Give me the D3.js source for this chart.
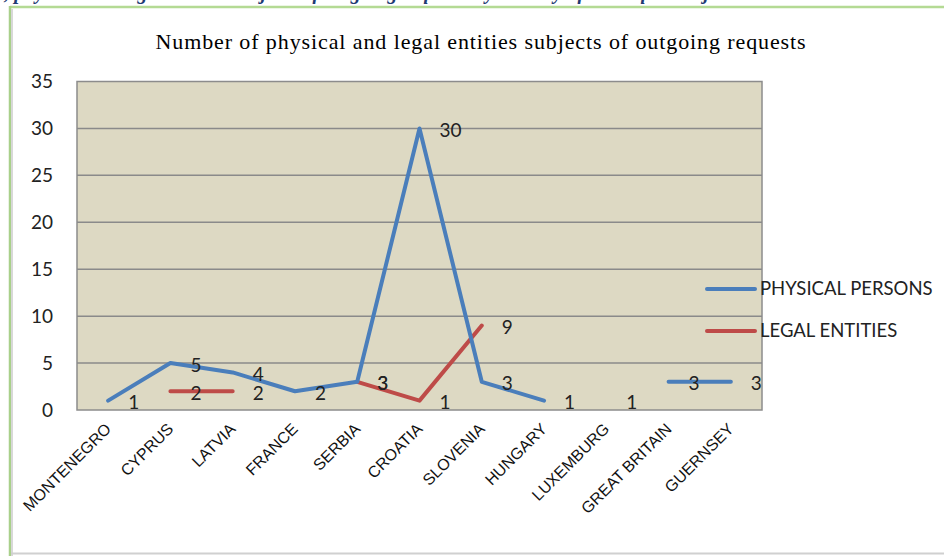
<!DOCTYPE html>
<html>
<head>
<meta charset="utf-8">
<style>
  body { margin: 0; background: #fff; }
  svg { display: block; }
</style>
</head>
<body>
<div id="lineChart"></div>

<script src="https://d3js.org/d3.v7.min.js"></script>
<script>
// chart data
var countries = ["MONTENEGRO", "CYPRUS", "LATVIA", "FRANCE", "SERBIA", "CROATIA",
                 "SLOVENIA", "HUNGARY", "LUXEMBURG", "GREAT BRITAIN", "GUERNSEY"];
var physicalPersons = [1, 5, 4, 2, 3, 30, 3, 1, null, 3, 3];
var legalEntities   = [null, 2, 2, null, 3, 1, 9, null, 1, null, null];
var seriesNames = ["PHYSICAL PERSONS", "LEGAL ENTITIES"];
var seriesColors = ["#4a7ebb", "#be4b48"];
var yTicks = [0, 5, 10, 15, 20, 25, 30, 35];

var width = 944, height = 556;
var plot = {left: 77, right: 762, top: 81.5, bottom: 410};

var svg = d3.select("#lineChart")
  .append("svg")
    .attr("width", width)
    .attr("height", height);

// cut off heading of the page above the chart
svg.append("text")
  .attr("x", -4)
  .attr("y", -1)
  .attr("font-family", "'Liberation Serif', 'DejaVu Serif', serif")
  .attr("font-size", 20)
  .attr("font-weight", "bold")
  .attr("font-style", "italic")
  .attr("fill", "#1f3b73")
  .text("y, physical and legal entities subjects of outgoing requests by country of the requested jurisdiction");

// frame around the chart
svg.append("line")
  .attr("x1", 10).attr("x2", width).attr("y1", 7).attr("y2", 7)
  .attr("stroke", "#b4da94").attr("stroke-width", 2.5);
svg.append("line")
  .attr("x1", 10).attr("x2", 10).attr("y1", 6).attr("y2", height)
  .attr("stroke", "#a9d08a").attr("stroke-width", 2.5);
svg.append("line")
  .attr("x1", 12).attr("x2", 12).attr("y1", 9).attr("y2", height)
  .attr("stroke", "#d8d8d8").attr("stroke-width", 2);
svg.append("line")
  .attr("x1", 11).attr("x2", width).attr("y1", 553.5).attr("y2", 553.5)
  .attr("stroke", "#d0d0d0").attr("stroke-width", 2);

// title
svg.append("text")
  .attr("x", 481)
  .attr("y", 49)
  .attr("text-anchor", "middle")
  .attr("font-family", "'Liberation Serif', 'DejaVu Serif', serif")
  .attr("font-size", 22)
  .attr("letter-spacing", 0.9)
  .attr("fill", "#000")
  .text("Number of physical and legal entities subjects of outgoing requests");

// scales
var x = d3.scaleBand()
  .domain(countries)
  .range([plot.left, plot.right]);

var y = d3.scaleLinear()
  .domain([0, 35])
  .range([plot.bottom, plot.top]);

// plot background
svg.append("rect")
  .attr("x", plot.left)
  .attr("y", plot.top)
  .attr("width", plot.right - plot.left)
  .attr("height", plot.bottom - plot.top)
  .attr("fill", "#ddd9c3")
  .attr("stroke", "#8c8c8c")
  .attr("stroke-width", 1.5);

// gridlines
svg.append("g")
  .selectAll("line")
  .data(yTicks.slice(1, -1))
  .enter()
  .append("line")
    .attr("x1", plot.left)
    .attr("x2", plot.right)
    .attr("y1", function(d) { return y(d); })
    .attr("y2", function(d) { return y(d); })
    .attr("stroke", "#8a8a8a")
    .attr("stroke-width", 1.5);

// y axis labels
svg.append("g")
  .attr("transform", "translate(" + (plot.left - 24) + ",0)")
  .call(d3.axisLeft(y).tickValues(yTicks).tickSize(0).tickPadding(0))
  .call(function(g) { g.select(".domain").remove(); })
  .selectAll("text")
    .attr("font-family", "Lato, 'Open Sans', sans-serif")
    .attr("font-size", 19)
    .attr("fill", "#222");

// x axis labels (rotated)
svg.append("g")
  .selectAll("text")
  .data(countries)
  .enter()
  .append("text")
    .attr("transform", function(d) {
      return "translate(" + (x(d) + x.bandwidth() / 2) + ",426) rotate(-45)";
    })
    .attr("text-anchor", "end")
    .attr("dy", "0.35em")
    .attr("font-family", "'Liberation Sans', Arial, sans-serif")
    .attr("font-size", 16)
    .attr("fill", "#111")
    .text(function(d) { return d; });

// lines
var allSeries = [physicalPersons, legalEntities];
// a value is part of the line only if a neighbour is there too
function hasNeighbour(values, i) {
  return (i > 0 && values[i - 1] != null) || (i < values.length - 1 && values[i + 1] != null);
}
function lineFor(values) {
  return d3.line()
    .defined(function(d, i) { return d != null && hasNeighbour(values, i); })
    .x(function(d, i) { return x(countries[i]) + x.bandwidth() / 2; })
    .y(function(d) { return y(d); });
}

// legal entities drawn first, physical persons on top
[1, 0].forEach(function(s) {
  svg.append("path")
    .datum(allSeries[s])
    .attr("fill", "none")
    .attr("stroke", seriesColors[s])
    .attr("stroke-width", 4)
    .attr("stroke-linecap", "round")
    .attr("stroke-linejoin", "round")
    .attr("d", lineFor(allSeries[s]));
});

// data labels
allSeries.forEach(function(values) {
  svg.append("g")
    .selectAll("text")
    .data(values.map(function(v, i) { return {v: v, c: countries[i]}; })
                .filter(function(d) { return d.v != null; }))
    .enter()
    .append("text")
      .attr("x", function(d) { return x(d.c) + x.bandwidth() / 2 + 20; })
      .attr("y", function(d) { return y(d.v) + 2; })
      .attr("dy", "0.35em")
      .attr("font-family", "Lato, 'Open Sans', sans-serif")
      .attr("font-size", 19)
      .attr("fill", "#222")
      .text(function(d) { return d.v; });
});

// legend
var legend = svg.append("g")
  .selectAll("g")
  .data(seriesNames)
  .enter()
  .append("g")
    .attr("transform", function(d, i) { return "translate(707," + (289 + i * 42) + ")"; });
legend.append("line")
  .attr("x1", 0).attr("x2", 48)
  .attr("stroke", function(d, i) { return seriesColors[i]; })
  .attr("stroke-width", 4)
  .attr("stroke-linecap", "round");
legend.append("text")
  .attr("x", 53)
  .attr("dy", "0.35em")
  .attr("font-family", "Lato, 'Open Sans', sans-serif")
  .attr("font-size", 18.5)
  .attr("fill", "#222")
  .text(function(d) { return d; });
</script>
</body>
</html>
